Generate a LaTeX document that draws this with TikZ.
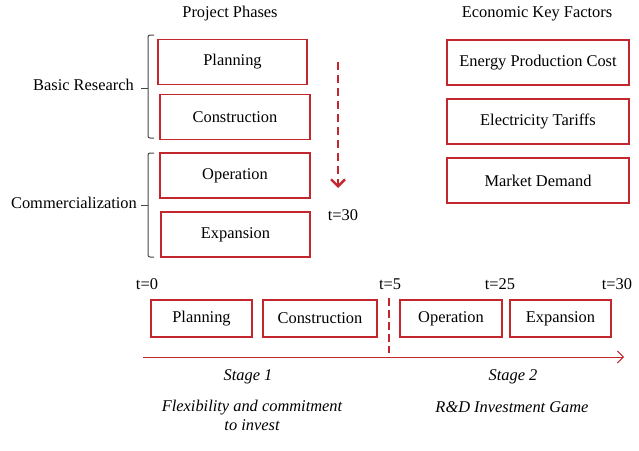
\documentclass[tikz,border=0pt]{standalone}
\usepackage{fontspec}
\setmainfont{Liberation Serif}
\usetikzlibrary{arrows.meta}
\definecolor{boxred}{RGB}{196,38,46}
\definecolor{brk}{RGB}{70,70,70}
\begin{document}
\begin{tikzpicture}[x=1pt,y=-1pt,
  every node/.style={font=\fontsize{16.4}{19}\selectfont, inner sep=0pt},
  phase/.style={draw=boxred, line width=1.7pt, minimum height=45pt},
  tbox/.style={draw=boxred, line width=1.7pt, minimum height=37pt},
  brack/.style={draw=brk, line width=1pt, rounded corners=2pt},
  itl/.style={font=\fontsize{16.4}{19}\selectfont\itshape, align=center}]
\useasboundingbox (0,0) rectangle (639,450);

% headings
\node (hpp) at (230,14) {Project Phases};
\node (hek) at (537,14) {Economic Key Factors};

% left phase boxes
\node[phase, minimum width=149pt] (p1) at (232.5,62) {Planning};
\node[phase, minimum width=150pt] (p2) at (235,117) {Construction};
\node[phase, minimum width=150pt] (p3) at (235,175.5) {Operation};
\node[phase, minimum width=149pt] (p4) at (235.5,234.5) {Expansion};

% brackets
\draw[brack] (154,35) -- (148,35) -- (148,138) -- (154,138);
\draw[brack] (148,88) -- (141,88);
\draw[brack] (154,153) -- (148,153) -- (148,257) -- (154,257);
\draw[brack] (148,205) -- (141,205);
\node[anchor=east] (br) at (134,85) {Basic Research};
\node[anchor=east] (cm) at (137,203) {Commercialization};

% dashed arrow
\coordinate (da) at (338,62);
\coordinate (db) at (338,188);
\draw[boxred, line width=2.8pt, dash pattern=on 8pt off 5pt,
  -{Straight Barb[length=7pt,width=14pt,line width=2.4pt]}] (da) -- (db);
\node (t30a) at (343,215) {t=30};

% right factor boxes
\node[phase, minimum width=182pt] (f1) at (538,62.5) {Energy Production Cost};
\node[phase, minimum width=182pt] (f2) at (538,121.5) {Electricity Tariffs};
\node[phase, minimum width=182pt] (f3) at (538,180.5) {Market Demand};

% timeline labels
\node (t0) at (147,284) {t=0};
\node (t5) at (390,284) {t=5};
\node (t25) at (500,284) {t=25};
\node (t30) at (617,284) {t=30};

% timeline boxes
\node[tbox, minimum width=101pt] (b1) at (201.5,318.5) {Planning};
\node[tbox, minimum width=114pt] (b2) at (320,318.5) {Construction};
\node[tbox, minimum width=102pt] (b3) at (451,318.5) {Operation};
\node[tbox, minimum width=101pt] (b4) at (560.5,318.5) {Expansion};

% vertical dashed divider
\coordinate (va) at (389,298);
\coordinate (vb) at (389,353);
\draw[boxred, line width=2.8pt, dash pattern=on 8pt off 4pt] (va) -- (vb);

% time axis
\coordinate (aa) at (143,357);
\coordinate (ab) at (624,357);
\draw[boxred, line width=0.9pt, -{Straight Barb[length=6pt,width=12pt]}] (aa) -- (ab);

% stage labels
\node[itl] (s1) at (248,377) {Stage 1};
\node[itl] (s2) at (513,377) {Stage 2};
\node[itl] (d1) at (252,415) {Flexibility and commitment\\to invest};
\node[itl] (d2) at (512,407) {R\&D Investment Game};
\end{tikzpicture}
\end{document}
